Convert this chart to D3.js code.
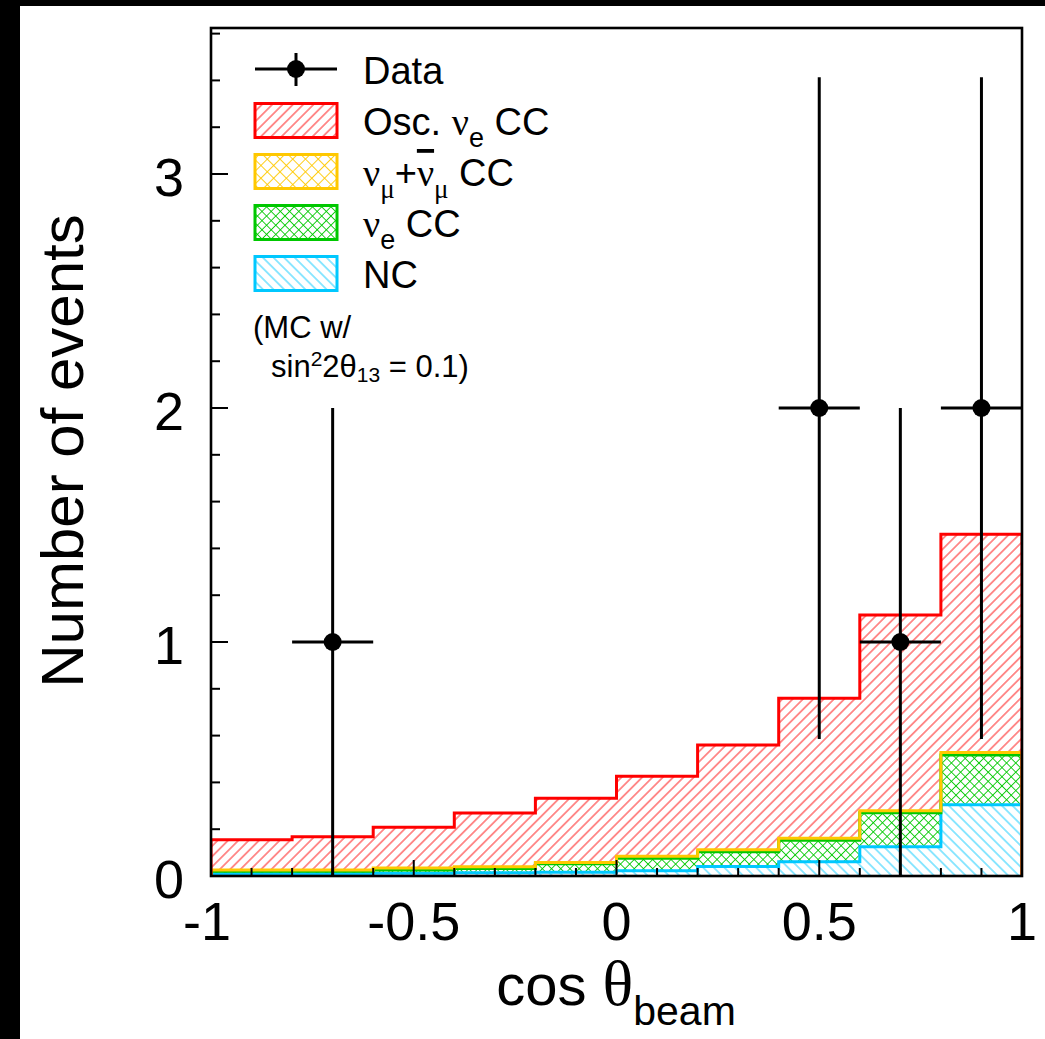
<!DOCTYPE html>
<html>
<head>
<meta charset="utf-8">
<script src="https://cdn.jsdelivr.net/npm/d3@7"></script>
<style>
  body { margin: 0; background: #fff; }
  svg { display: block; }
  text { font-family: "Liberation Sans", Arial, Helvetica, sans-serif; fill: #000; }
  .greek { font-family: "Liberation Serif", "Times New Roman", serif; }
</style>
</head>
<body>
<script>
const W = 1045, H = 1039;

// bins in cos(theta_beam), lower edges, width 0.2
const binLo = [-1.0, -0.8, -0.6, -0.4, -0.2, 0.0, 0.2, 0.4, 0.6, 0.8];
const binW = 0.2;

// MC expectation per bin (stacked from bottom)
const ncMC    = [0.010, 0.010, 0.012, 0.014, 0.016, 0.022, 0.041, 0.061, 0.125, 0.305];
const nueMC   = [0.010, 0.010, 0.014, 0.018, 0.036, 0.054, 0.063, 0.092, 0.145, 0.212];
const numuMC  = [0.006, 0.006, 0.008, 0.008, 0.006, 0.008, 0.008, 0.008, 0.009, 0.011];
const oscMC   = [0.129, 0.142, 0.174, 0.229, 0.274, 0.342, 0.448, 0.599, 0.836, 0.932];

// data points
const dataX   = [-0.7, 0.5, 0.7, 0.9];
const dataY   = [1, 2, 1, 2];
const dataErr = [1, 1.414, 1, 1.414];

const xTicks = [-1, -0.5, 0, 0.5, 1];
const xTickLabels = ['-1', '-0.5', '0', '0.5', '1'];
const yTicks = [0, 1, 2, 3];

const m = { left: 211, right: 1022, top: 28, bottom: 876 };

const x = d3.scaleLinear().domain([-1, 1]).range([m.left, m.right]);
const y = d3.scaleLinear().domain([0, 3.624]).range([m.bottom, m.top]);

const svg = d3.select('body').append('svg')
    .attr('width', W)
    .attr('height', H);

// black frame of the original scan
svg.append('rect').attr('width', W).attr('height', H).attr('fill', '#fff');
svg.append('rect').attr('width', 20).attr('height', H).attr('fill', '#000');
svg.append('rect').attr('width', W).attr('height', 6).attr('fill', '#000');

const defs = svg.append('defs');

// one family of parallel lines; a cross hatch is two of these stacked
function lines(id, color, size, angle, bg) {
    const p = defs.append('pattern')
        .attr('id', id)
        .attr('patternUnits', 'userSpaceOnUse')
        .attr('width', size)
        .attr('height', size * 40)
        .attr('patternTransform', `rotate(${angle})`);
    if (bg) p.append('rect').attr('width', size).attr('height', size * 40).attr('fill', '#fff');
    p.append('line')
        .attr('x1', size / 2).attr('x2', size / 2)
        .attr('y1', 0).attr('y2', size * 40)
        .attr('stroke', color).attr('stroke-width', 0.9);
}

const comps = [
    { key: 'nc',   vals: ncMC,   color: '#00c8ff', pat: 'hNC',   angles: [-45],     size: 7.5 },
    { key: 'nue',  vals: nueMC,  color: '#00c800', pat: 'hNue',  angles: [45, -45], size: 6.5 },
    { key: 'numu', vals: numuMC, color: '#ffc800', pat: 'hNumu', angles: [45, -45], size: 9 },
    { key: 'osc',  vals: oscMC,  color: '#ff0000', pat: 'hOsc',  angles: [45],      size: 7.3 }
];
comps.forEach(c => {
    lines(c.pat, c.color, c.size, c.angles[0], true);
    if (c.angles.length > 1) lines(c.pat + '_b', c.color, c.size, c.angles[1], false);
});

defs.append('clipPath').attr('id', 'plotClip')
    .append('rect')
    .attr('x', m.left).attr('y', m.top)
    .attr('width', m.right - m.left).attr('height', m.bottom - m.top);

const rows = binLo.map((lo, i) => {
    const r = { lo };
    comps.forEach(c => r[c.key] = c.vals[i]);
    return r;
});
const stacked = d3.stack().keys(comps.map(c => c.key))(rows);

// points for step curves: add closing edge at x = 1
function stepPts(layer) {
    const pts = layer.map((d, i) => ({ x: binLo[i], y0: d[0], y1: d[1] }));
    const last = pts[pts.length - 1];
    pts.push({ x: binLo[binLo.length - 1] + binW, y0: last.y0, y1: last.y1 });
    return pts;
}

const area = d3.area()
    .curve(d3.curveStepAfter)
    .x(d => x(d.x))
    .y0(d => y(d.y0))
    .y1(d => y(d.y1));

const outline = d3.line()
    .curve(d3.curveStepAfter)
    .x(d => x(d.x))
    .y(d => y(d.v));

const gHist = svg.append('g').attr('clip-path', 'url(#plotClip)');

stacked.forEach((layer, li) => {
    const c = comps[li];
    const pts = stepPts(layer);
    gHist.append('path')
        .attr('d', area(pts))
        .attr('fill', `url(#${c.pat})`);
    if (c.angles.length > 1) {
        gHist.append('path')
            .attr('d', area(pts))
            .attr('fill', `url(#${c.pat}_b)`);
    }
});

// top outlines, drawn after all fills
stacked.forEach((layer, li) => {
    const c = comps[li];
    const pts = stepPts(layer);
    const line = [{ x: -1, v: 0 }]
        .concat(pts.map(p => ({ x: p.x, v: p.y1 })))
        .concat([{ x: 1, v: 0 }]);
    gHist.append('path')
        .attr('d', outline(line))
        .attr('fill', 'none')
        .attr('stroke', c.color)
        .attr('stroke-width', 3);
});

// frame
svg.append('rect')
    .attr('x', m.left).attr('y', m.top)
    .attr('width', m.right - m.left).attr('height', m.bottom - m.top)
    .attr('fill', 'none')
    .attr('stroke', '#000')
    .attr('stroke-width', 2.6);

// y ticks (inside, pointing right)
const yMinor = d3.range(0, 3.61, 0.2);
svg.append('g').selectAll('line')
    .data(yMinor)
    .join('line')
    .attr('x1', m.left)
    .attr('x2', d => m.left + (Math.abs(d - Math.round(d)) < 1e-6 ? 17 : 9))
    .attr('y1', d => y(d)).attr('y2', d => y(d))
    .attr('stroke', '#000').attr('stroke-width', 2);

svg.append('g').selectAll('text')
    .data(yTicks)
    .join('text')
    .attr('x', 184)
    .attr('y', d => y(d))
    .attr('dy', '0.41em')
    .attr('text-anchor', 'end')
    .attr('font-size', 54)
    .text(d => d);

// x ticks (inside, pointing up)
const xMinor = d3.range(-10, 11).map(i => i / 10);
svg.append('g').selectAll('line')
    .data(xMinor)
    .join('line')
    .attr('x1', d => x(d)).attr('x2', d => x(d))
    .attr('y1', m.bottom)
    .attr('y2', d => m.bottom - (Math.abs(d * 2 - Math.round(d * 2)) < 1e-6 ? 16 : 8))
    .attr('stroke', '#000').attr('stroke-width', 2);

svg.append('g').selectAll('text')
    .data(xTicks)
    .join('text')
    .attr('x', (d, i) => x(d) - (i === 0 ? 4 : 0))
    .attr('y', 940)
    .attr('text-anchor', 'middle')
    .attr('font-size', 54)
    .text((d, i) => xTickLabels[i]);

// axis titles
svg.append('text')
    .attr('transform', 'translate(83,451) rotate(-90)')
    .attr('text-anchor', 'middle')
    .attr('font-size', 60)
    .text('Number of events');

const xt = svg.append('text')
    .attr('x', 616)
    .attr('y', 1005)
    .attr('text-anchor', 'middle')
    .attr('font-size', 58);
xt.append('tspan').text('cos ');
xt.append('tspan').attr('class', 'greek').attr('font-size', 64).text('θ');
xt.append('tspan').attr('font-size', 41).attr('dy', 20).text('beam');

// data points with error bars
const gData = svg.append('g');
dataX.forEach((dx, i) => {
    const g = gData.append('g');
    g.append('line')
        .attr('x1', x(dx - binW / 2)).attr('x2', x(dx + binW / 2))
        .attr('y1', y(dataY[i])).attr('y2', y(dataY[i]))
        .attr('stroke', '#000').attr('stroke-width', 3);
    g.append('line')
        .attr('x1', x(dx)).attr('x2', x(dx))
        .attr('y1', y(Math.max(0, dataY[i] - dataErr[i])))
        .attr('y2', y(dataY[i] + dataErr[i]))
        .attr('stroke', '#000').attr('stroke-width', 3);
    g.append('circle')
        .attr('cx', x(dx)).attr('cy', y(dataY[i]))
        .attr('r', 9).attr('fill', '#000');
});

// legend
const leg = svg.append('g');
const lgX = 255, lgW = 82, lgTx = 363;

const dRow = leg.append('g');
dRow.append('line').attr('x1', lgX).attr('x2', lgX + lgW).attr('y1', 69).attr('y2', 69)
    .attr('stroke', '#000').attr('stroke-width', 3);
dRow.append('line').attr('x1', lgX + lgW / 2).attr('x2', lgX + lgW / 2).attr('y1', 53).attr('y2', 86)
    .attr('stroke', '#000').attr('stroke-width', 3);
dRow.append('circle').attr('cx', lgX + lgW / 2).attr('cy', 69).attr('r', 9).attr('fill', '#000');
dRow.append('text').attr('x', lgTx).attr('y', 84).attr('font-size', 38).text('Data');

const legendOrder = ['osc', 'numu', 'nue', 'nc'];
legendOrder.forEach((k, i) => {
    const c = comps.find(cc => cc.key === k);
    const cy = 120.5 + i * 51;
    leg.append('rect')
        .attr('x', lgX).attr('y', cy - 17)
        .attr('width', lgW).attr('height', 34)
        .attr('fill', `url(#${c.pat})`);
    if (c.angles.length > 1) {
        leg.append('rect')
            .attr('x', lgX).attr('y', cy - 17)
            .attr('width', lgW).attr('height', 34)
            .attr('fill', `url(#${c.pat}_b)`);
    }
    leg.append('rect')
        .attr('x', lgX).attr('y', cy - 17)
        .attr('width', lgW).attr('height', 34)
        .attr('fill', 'none')
        .attr('stroke', c.color).attr('stroke-width', 3);
});

const t1 = leg.append('text').attr('x', lgTx).attr('y', 135).attr('font-size', 38);
t1.append('tspan').text('Osc. ');
t1.append('tspan').attr('class', 'greek').text('ν');
t1.append('tspan').attr('font-size', 27).attr('dy', 12).text('e');
t1.append('tspan').attr('dy', -12).text(' CC');

const t2 = leg.append('text').attr('x', lgTx).attr('y', 186).attr('font-size', 38);
t2.append('tspan').attr('class', 'greek').text('ν');
t2.append('tspan').attr('class', 'greek').attr('font-size', 27).attr('dy', 12).text('μ');
t2.append('tspan').attr('dy', -12).text('+');
t2.append('tspan').attr('class', 'greek').style('text-decoration', 'overline').text('ν');
t2.append('tspan').attr('class', 'greek').attr('font-size', 27).attr('dy', 12).text('μ');
t2.append('tspan').attr('dy', -12).text(' CC');

const t3 = leg.append('text').attr('x', lgTx).attr('y', 237).attr('font-size', 38);
t3.append('tspan').attr('class', 'greek').text('ν');
t3.append('tspan').attr('font-size', 27).attr('dy', 12).text('e');
t3.append('tspan').attr('dy', -12).text(' CC');

leg.append('text').attr('x', lgTx).attr('y', 288).attr('font-size', 38).text('NC');

leg.append('text').attr('x', 253).attr('y', 338).attr('font-size', 31).text('(MC w/');
const t5 = leg.append('text').attr('x', 271).attr('y', 377).attr('font-size', 31);
t5.append('tspan').text('sin');
t5.append('tspan').attr('font-size', 21).attr('dy', -11).text('2');
t5.append('tspan').attr('dy', 11).text('2θ');
t5.append('tspan').attr('font-size', 21).attr('dy', 5).text('13');
t5.append('tspan').attr('dy', -5).text(' = 0.1)');
</script>
</body>
</html>
